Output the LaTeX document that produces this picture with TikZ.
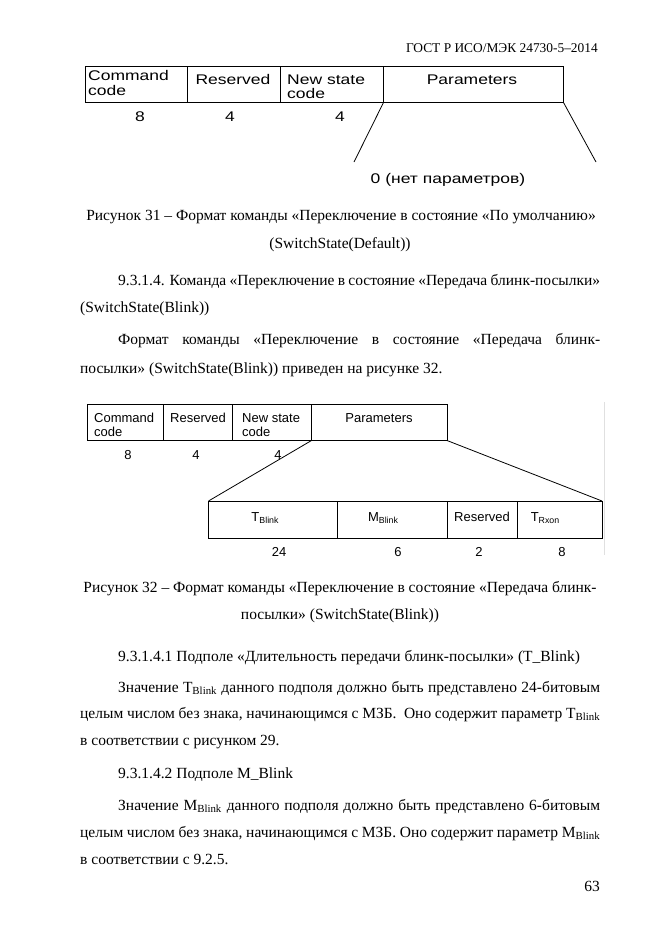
\documentclass[tikz,border=0pt]{standalone}
\usepackage{fontspec}
\usepackage{graphicx}
\setmainfont{Liberation Serif}
\newfontfamily\arialf{Liberation Sans}
\newcommand\wide[1]{\scalebox{1.25}[1]{#1}}
\newcommand\subA[1]{\raisebox{-2.5pt}{\fontsize{8.8}{9}\selectfont #1}}
\tikzset{
  cell/.style={draw, line width=0.8pt, inner sep=0pt, outer sep=0pt, anchor=north west},
  body/.style={inner sep=0pt, anchor=base west, font=\fontsize{15.5}{18}\selectfont},
  bodyc/.style={inner sep=0pt, anchor=base, font=\fontsize{15.5}{18}\selectfont},
  da/.style={inner sep=0pt, font=\arialf\fontsize{14}{16}\selectfont},
  db/.style={inner sep=0pt, font=\arialf\fontsize{13}{15}\selectfont},
  conn/.style={line width=0.8pt}
}
\begin{document}
\begin{tikzpicture}[x=1pt,y=-1pt]
\fill[white] (0,0) rectangle (661,935);
\useasboundingbox (0,0) rectangle (661,935);

% header
\node[inner sep=0pt, anchor=base east, font=\fontsize{13.4}{16}\selectfont] (hdr) at (598,52) {ГОСТ Р ИСО/МЭК 24730-5–2014};

% ---------- Figure 31 ----------
\node[cell, minimum width=102pt, minimum height=36.5pt] (a1) at (85,66) {};
\node[cell, minimum width=93pt, minimum height=36.5pt] (a2) at (187,66) {};
\node[cell, minimum width=103.5pt, minimum height=36.5pt] (a3) at (280,66) {};
\node[cell, minimum width=180pt, minimum height=36.5pt] (a4) at (383.5,66) {};

\node[da, anchor=base west] (a1l1) at (88,80) {\wide{Command}};
\node[da, anchor=base west] (a1l2) at (88,95) {\wide{code}};
\node[da, anchor=base] (a2l) at (233,84) {\wide{Reserved}};
\node[da, anchor=base west] (a3l1) at (287,84) {\wide{New state}};
\node[da, anchor=base west] (a3l2) at (287,98.5) {\wide{code}};
\node[da, anchor=base] (a4l) at (472,84) {\wide{Parameters}};

\node[da, anchor=base] (an1) at (140,121) {\wide{8}};
\node[da, anchor=base] (an2) at (230,121) {\wide{4}};
\node[da, anchor=base] (an3) at (340,121) {\wide{4}};

\coordinate (ae1) at (354,162);
\coordinate (ae2) at (596,162);
\draw[conn] (a4.south west) -- (ae1);
\draw[conn] (a4.south east) -- (ae2);
\node[da, anchor=base] (a0) at (448,183) {\wide{0 (нет параметров)}};

% ---------- captions / text ----------
\node[bodyc] (t1) at (341,220) {Рисунок 31 – Формат команды «Переключение в состояние «По умолчанию»};
\node[bodyc] (t2) at (340,248) {(SwitchState(Default))};
\node[body] (t3) at (118,285) {\makebox[482pt][s]{9.3.1.4. Команда «Переключение в состояние «Передача блинк-посылки»}};
\node[body] (t4) at (80,312) {(SwitchState(Blink))};
\node[body] (t5) at (118,344) {\makebox[482pt][s]{Формат команды «Переключение в состояние «Передача блинк-}};
\node[body] (t6) at (80,373) {посылки» (SwitchState(Blink)) приведен на рисунке 32.};

% ---------- Figure 32 ----------
\node[cell, minimum width=76.5pt, minimum height=36pt] (b1) at (87,404.5) {};
\node[cell, minimum width=69pt, minimum height=36pt] (b2) at (163.5,404.5) {};
\node[cell, minimum width=79pt, minimum height=36pt] (b3) at (232.5,404.5) {};
\node[cell, minimum width=135.5pt, minimum height=36pt] (b4) at (311.5,404.5) {};

\node[db, anchor=base west] (b1l1) at (94,422) {Command};
\node[db, anchor=base west] (b1l2) at (94,436.5) {code};
\node[db, anchor=base west] (b2l) at (170,422) {Reserved};
\node[db, anchor=base west] (b3l1) at (242,422) {New state};
\node[db, anchor=base west] (b3l2) at (242,436.5) {code};
\node[db, anchor=base] (b4l) at (379,422) {Parameters};

\node[db, anchor=base] (bn1) at (128,459) {8};
\node[db, anchor=base] (bn2) at (196,459) {4};
\node[db, anchor=base] (bn3) at (278,459) {4};

\node[cell, minimum width=129.2pt, minimum height=37pt] (c1) at (208.5,501) {};
\node[cell, minimum width=110.1pt, minimum height=37pt] (c2) at (337.7,501) {};
\node[cell, minimum width=69.5pt, minimum height=37pt] (c3) at (447.8,501) {};
\node[cell, minimum width=84.7pt, minimum height=37pt] (c4) at (517.3,501) {};

\draw[conn] (b4.south west) -- (c1.north west);
\draw[conn] (b4.south east) -- (c4.north east);

\node[db, anchor=base] (c1l) at (265,521) {T\subA{Blink}};
\node[db, anchor=base] (c2l) at (383,521) {M\subA{Blink}};
\node[db, anchor=base] (c3l) at (482,521) {Reserved};
\node[db, anchor=base] (c4l) at (545,521) {T\subA{Rxon}};

\node[db, anchor=base] (cn1) at (279,556) {24};
\node[db, anchor=base] (cn2) at (398,556) {6};
\node[db, anchor=base] (cn3) at (479,556) {2};
\node[db, anchor=base] (cn4) at (562,556) {8};

\coordinate (f1) at (604,402);
\coordinate (f2) at (604,555);
\draw[black!12, line width=0.6pt] (f1) -- (f2);

% ---------- text below ----------
\node[bodyc] (t7) at (340,592) {Рисунок 32 – Формат команды «Переключение в состояние «Передача блинк-};
\node[bodyc] (t8) at (340,619) {посылки» (SwitchState(Blink))};
\node[body] (t9) at (118,661) {9.3.1.4.1 Подполе «Длительность передачи блинк-посылки» (T\_Blink)};
\node[body] (t10) at (118,692) {\makebox[482pt][s]{Значение T\textsubscript{Blink} данного подполя должно быть представлено 24-битовым}};
\node[body] (t11) at (80,718) {\makebox[520pt][s]{целым числом без знака, начинающимся с МЗБ.\ \ Оно содержит параметр T\textsubscript{Blink}}};
\node[body] (t12) at (80,745) {в соответствии с рисунком 29.};
\node[body] (t13) at (118,778) {9.3.1.4.2 Подполе M\_Blink};
\node[body] (t14) at (118,810) {\makebox[482pt][s]{Значение M\textsubscript{Blink} данного подполя должно быть представлено 6-битовым}};
\node[body] (t15) at (80,837) {\makebox[520pt][s]{целым числом без знака, начинающимся с МЗБ. Оно содержит параметр M\textsubscript{Blink}}};
\node[body] (t16) at (80,864) {в соответствии с 9.2.5.};
\node[inner sep=0pt, anchor=base east, font=\fontsize{15.5}{18}\selectfont] (pg) at (600,891) {63};
\end{tikzpicture}
\end{document}
